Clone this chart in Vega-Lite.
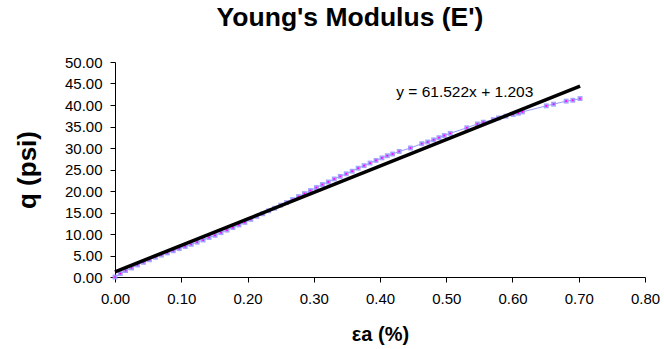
{
  "$schema": "https://vega.github.io/schema/vega-lite/v6.json",
  "autosize": "none",
  "width": 530,
  "height": 215,
  "padding": {"left": 115, "top": 62, "right": 19, "bottom": 72},
  "background": "white",
  "config": {
    "view": {"stroke": null},
    "font": "Liberation Sans",
    "axis": {
      "grid": false,
      "domainColor": "black",
      "tickColor": "black",
      "labelColor": "black",
      "titleColor": "black",
      "labelFont": "Liberation Sans",
      "titleFont": "Liberation Sans",
      "labelFontSize": 15,
      "labelFlush": false,
      "labelOverlap": false,
      "tickSize": 5,
      "domainWidth": 1,
      "tickWidth": 1
    }
  },
  "title": {
    "text": "Young's Modulus (E')",
    "font": "Liberation Sans",
    "fontSize": 26.5,
    "fontWeight": "bold",
    "color": "black",
    "anchor": "middle",
    "dx": -30,
    "baseline": "alphabetic",
    "offset": 3
  },
  "datasets": {
    "pts": [
      {"x": 0.000, "q": 0.0}, {"x": 0.008, "q": 0.8}, {"x": 0.016, "q": 1.5},
      {"x": 0.025, "q": 2.1}, {"x": 0.034, "q": 2.8}, {"x": 0.043, "q": 3.4},
      {"x": 0.052, "q": 4.0}, {"x": 0.061, "q": 4.6}, {"x": 0.070, "q": 5.1},
      {"x": 0.079, "q": 5.6}, {"x": 0.088, "q": 6.1}, {"x": 0.097, "q": 6.6},
      {"x": 0.106, "q": 7.1}, {"x": 0.115, "q": 7.6}, {"x": 0.124, "q": 8.1},
      {"x": 0.133, "q": 8.6}, {"x": 0.142, "q": 9.2}, {"x": 0.151, "q": 9.7},
      {"x": 0.160, "q": 10.3}, {"x": 0.169, "q": 10.9}, {"x": 0.178, "q": 11.5},
      {"x": 0.187, "q": 12.1}, {"x": 0.196, "q": 12.7}, {"x": 0.205, "q": 13.4},
      {"x": 0.214, "q": 14.1}, {"x": 0.223, "q": 14.7}, {"x": 0.232, "q": 15.4},
      {"x": 0.241, "q": 16.0}, {"x": 0.250, "q": 16.7}, {"x": 0.259, "q": 17.3},
      {"x": 0.268, "q": 18.0}, {"x": 0.277, "q": 18.7}, {"x": 0.286, "q": 19.4},
      {"x": 0.295, "q": 20.1}, {"x": 0.304, "q": 20.8}, {"x": 0.313, "q": 21.5},
      {"x": 0.322, "q": 22.1}, {"x": 0.331, "q": 22.8}, {"x": 0.340, "q": 23.4},
      {"x": 0.349, "q": 24.0}, {"x": 0.358, "q": 24.6}, {"x": 0.367, "q": 25.3},
      {"x": 0.376, "q": 25.9}, {"x": 0.385, "q": 26.5}, {"x": 0.394, "q": 27.1},
      {"x": 0.403, "q": 27.7}, {"x": 0.411, "q": 28.2}, {"x": 0.419, "q": 28.6},
      {"x": 0.429, "q": 29.2}, {"x": 0.446, "q": 30.0}, {"x": 0.463, "q": 31.0},
      {"x": 0.472, "q": 31.4}, {"x": 0.481, "q": 31.9}, {"x": 0.489, "q": 32.4},
      {"x": 0.497, "q": 32.9}, {"x": 0.506, "q": 33.4}, {"x": 0.531, "q": 34.7},
      {"x": 0.547, "q": 35.6}, {"x": 0.556, "q": 36.0}, {"x": 0.571, "q": 36.6},
      {"x": 0.579, "q": 37.0}, {"x": 0.590, "q": 37.4}, {"x": 0.601, "q": 37.8},
      {"x": 0.609, "q": 38.1}, {"x": 0.615, "q": 38.4}, {"x": 0.651, "q": 39.8},
      {"x": 0.662, "q": 40.2}, {"x": 0.681, "q": 40.9}, {"x": 0.691, "q": 41.1},
      {"x": 0.702, "q": 41.5}
    ],
    "trend": [
      {"x": 0.0, "q": 1.203},
      {"x": 0.702, "q": 44.39}
    ],
    "eq": [
      {"x": 0.528, "q": 43.0, "label": "y = 61.522x + 1.203"}
    ]
  },
  "encoding": {
    "x": {
      "field": "x", "type": "quantitative",
      "scale": {"domain": [0, 0.8], "nice": false, "zero": false},
      "axis": {
        "values": [0, 0.1, 0.2, 0.3, 0.4, 0.5, 0.6, 0.7, 0.8],
        "format": ".2f",
        "labelPadding": 9,
        "title": "εa (%)",
        "titleFontSize": 20,
        "titleFontWeight": "bold",
        "titlePadding": 18
      }
    },
    "y": {
      "field": "q", "type": "quantitative",
      "scale": {"domain": [0, 50], "nice": false, "zero": false},
      "axis": {
        "values": [0, 5, 10, 15, 20, 25, 30, 35, 40, 45, 50],
        "format": ".2f",
        "labelPadding": 8,
        "title": "q (psi)",
        "titleFontSize": 26,
        "titleFontWeight": "bold",
        "titlePadding": 24
      }
    }
  },
  "layer": [
    {
      "data": {"name": "pts"},
      "mark": {"type": "line", "color": "#9999FF", "strokeWidth": 1},
      "encoding": {}
    },
    {
      "data": {"name": "pts"},
      "mark": {"type": "point", "shape": "square", "filled": true, "color": "#9999FF", "size": 24, "opacity": 0.9},
      "encoding": {}
    },
    {
      "data": {"name": "pts"},
      "mark": {"type": "point", "shape": "square", "filled": true, "color": "#FF00FF", "size": 3, "opacity": 1},
      "encoding": {}
    },
    {
      "data": {"name": "trend"},
      "mark": {"type": "line", "color": "black", "strokeWidth": 3.5},
      "encoding": {}
    },
    {
      "data": {"name": "eq"},
      "mark": {"type": "text", "font": "Liberation Sans", "fontSize": 15.5, "color": "black", "align": "center", "baseline": "middle"},
      "encoding": {"text": {"field": "label"}}
    }
  ]
}
